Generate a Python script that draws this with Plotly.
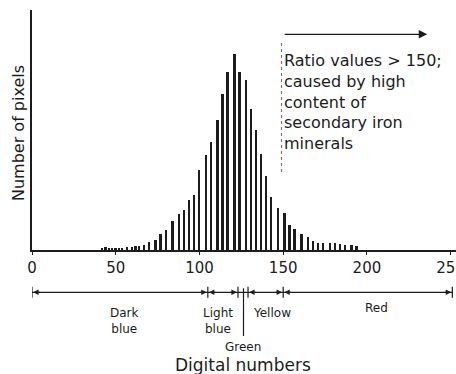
import plotly.graph_objects as go

# Histogram of ratio-image digital numbers
dn_values = [42, 44, 46, 48, 50, 52, 54, 57, 60, 62, 64, 67, 70, 74, 77, 80, 84, 88,
             91, 94, 97, 100, 104, 107, 111, 114, 117, 121, 124, 128, 131, 134, 137,
             140, 143, 147, 151, 154, 157, 161, 165, 168, 171, 174, 178, 181, 184,
             187, 191, 194]
pixel_counts = [2.5, 3, 2.5, 2.5, 2.5, 2.5, 2.5, 3, 3, 3.7, 4.3, 5.3, 7.7, 9.7, 16,
                20.3, 29.3, 36, 40.3, 49.7, 54.7, 80, 95, 108.5, 130, 156.5, 178.5,
                196, 178.5, 170, 141, 120, 96, 74, 53.5, 42, 37, 25, 21.5, 16, 12.7,
                9, 7, 6.7, 6.7, 6.7, 6.3, 5, 5, 4]
tick_values = [0, 50, 100, 150, 200, 250]
tick_labels = ["0", "50", "100", "150", "200", "250"]

# Colour classes along the DN scale
class_edges = [0, 105, 123, 129, 150, 251]
green_dn = 126.3
class_names = ["Dark<br>blue", "Light<br>blue", "Yellow", "Red"]
class_label_x = [55, 111, 143.5, 205.5]
threshold_dn = 150
note_text = ("Ratio values > 150;<br>caused by high<br>content of<br>"
             "secondary iron<br>minerals")

INK = "#1c1c1c"
FONT = "DejaVu Sans"

W, H = 456, 374
ML, MR, MT, MB = 32, 0, 10, 124
PLOT_H = H - MT - MB


def paper_y(py):
    """Convert a pixel row in the page to a paper y fraction."""
    return (H - MB - py) / PLOT_H


fig = go.Figure()
fig.add_trace(go.Bar(x=dn_values, y=pixel_counts, width=1.15,
                     marker=dict(color=INK, line=dict(width=0)),
                     hoverinfo="skip"))

shapes = []
annotations = []

# dashed marker at the threshold value
shapes.append(dict(type="line", xref="x", yref="y", x0=threshold_dn - 1, x1=threshold_dn - 1,
                   y0=78, y1=208, line=dict(color="#777", width=1.2, dash="dot")))
# arrow pointing to higher ratio values
annotations.append(dict(x=236, y=215.7, ax=threshold_dn, ay=215.7, xref="x", yref="y",
                        axref="x", ayref="y", showarrow=True, arrowhead=2, arrowsize=1.3,
                        arrowwidth=1.3, arrowcolor=INK, text=""))
annotations.append(dict(x=threshold_dn - 0.5, y=148, xref="x", yref="y", text=note_text,
                        showarrow=False, xanchor="left", yanchor="middle", align="left",
                        font=dict(family=FONT, size=16, color=INK)))

# class scale below the axis
band_py = 292.3
shapes.append(dict(type="line", xref="x", yref="paper", x0=class_edges[0], x1=class_edges[-1],
                   y0=paper_y(band_py), y1=paper_y(band_py), line=dict(color=INK, width=1.2)))
for e in class_edges:
    shapes.append(dict(type="line", xref="x", yref="paper", x0=e, x1=e,
                       y0=paper_y(band_py - 5.5), y1=paper_y(band_py + 5.5),
                       line=dict(color=INK, width=1.2)))
shapes.append(dict(type="line", xref="x", yref="paper", x0=green_dn, x1=green_dn,
                   y0=paper_y(band_py - 4), y1=paper_y(336), line=dict(color=INK, width=1.2)))

# small arrowheads pointing at each class boundary
for a, b in zip(class_edges[:-1], class_edges[1:]):
    if b - a < 10:
        continue
    for tip, offset in ((a + 0.7, 8), (b - 0.7, -8)):
        annotations.append(dict(x=tip, y=paper_y(band_py), xref="x", yref="paper",
                                ax=offset, ay=0, showarrow=True, arrowhead=2,
                                arrowsize=0.9, arrowwidth=1.2, arrowcolor=INK, text=""))

label_rows = [321, 321, 313, 308]
for name, lx, row in zip(class_names, class_label_x, label_rows):
    annotations.append(dict(x=lx, y=paper_y(row), xref="x", yref="paper", text=name,
                            showarrow=False, xanchor="center", yanchor="middle",
                            font=dict(family=FONT, size=12, color=INK)))
annotations.append(dict(x=green_dn - 0.5, y=paper_y(346.5), xref="x", yref="paper", text="Green",
                        showarrow=False, xanchor="center", yanchor="middle",
                        font=dict(family=FONT, size=12, color=INK)))
annotations.append(dict(x=126, y=paper_y(365), xref="x", yref="paper", text="Digital numbers",
                        showarrow=False, xanchor="center", yanchor="middle",
                        font=dict(family=FONT, size=17, color=INK)))
annotations.append(dict(x=(18 - ML) / (W - ML - MR), y=paper_y(133), xref="paper", yref="paper",
                        text="Number of pixels", textangle=-90, showarrow=False,
                        xanchor="center", yanchor="middle",
                        font=dict(family=FONT, size=16, color=INK)))

fig.update_layout(
    width=W, height=H,
    margin=dict(l=ML, r=MR, t=MT, b=MB, autoexpand=False),
    paper_bgcolor="white", plot_bgcolor="white",
    showlegend=False, bargap=0,
    shapes=shapes, annotations=annotations,
    xaxis=dict(range=[0, 253.2], tickvals=tick_values, ticktext=tick_labels,
               showline=True, linecolor=INK, linewidth=1.5, ticks="outside", ticklen=3,
               tickcolor=INK, showgrid=False, zeroline=False, ticklabeloverflow="allow",
               automargin=False,
               tickfont=dict(family=FONT, size=15, color=INK)),
    yaxis=dict(range=[0, 240], showline=True, linecolor=INK, linewidth=1.5,
               showticklabels=False, ticks="", showgrid=False, zeroline=False,
               automargin=False),
)

fig.write_html("out.html")
